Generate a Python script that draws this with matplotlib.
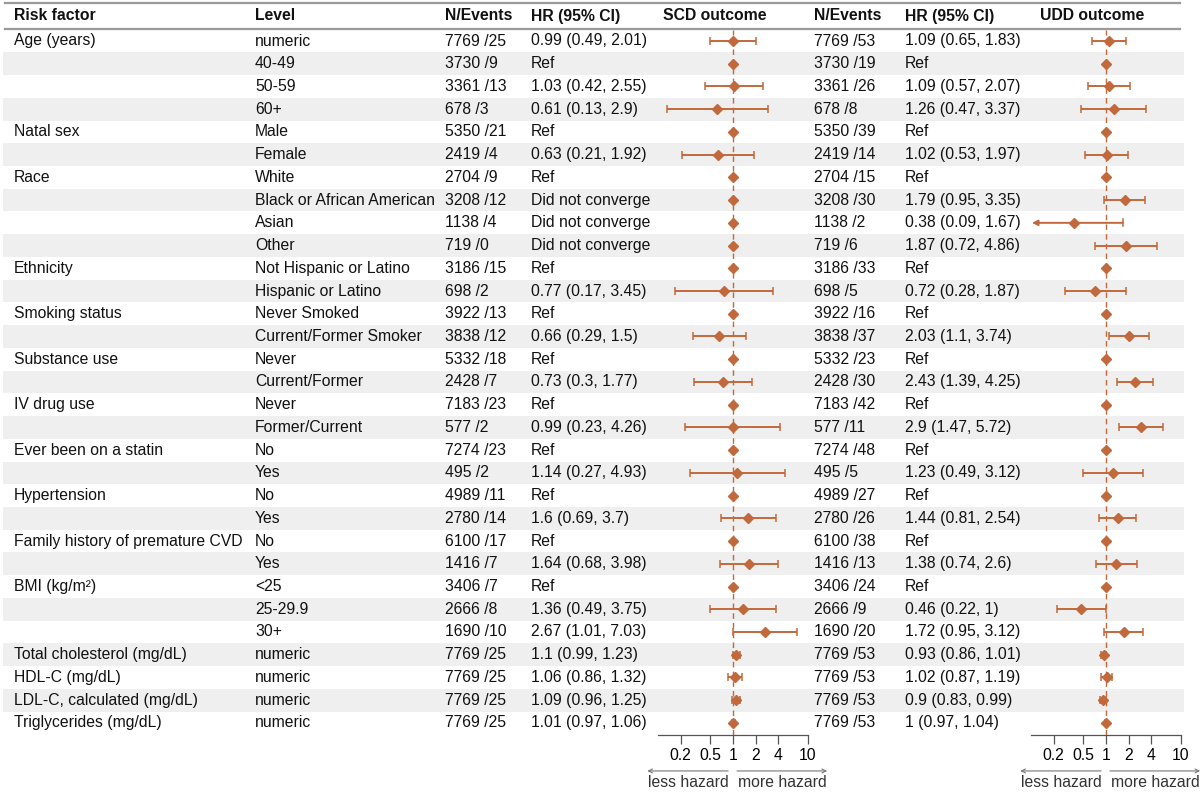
import numpy as np
import matplotlib
matplotlib.use("Agg")
import matplotlib.pyplot as plt

plt.rcParams["font.family"] = ["Liberation Sans", "DejaVu Sans"]
plt.rcParams["font.size"] = 11.3

# ---------------------------------------------------------------------------
# Table data
# ---------------------------------------------------------------------------
risk_factor = [
    "Age (years)", "", "", "",
    "Natal sex", "",
    "Race", "", "", "",
    "Ethnicity", "",
    "Smoking status", "",
    "Substance use", "",
    "IV drug use", "",
    "Ever been on a statin", "",
    "Hypertension", "",
    "Family history of premature CVD", "",
    "BMI (kg/m²)", "", "",
    "Total cholesterol (mg/dL)", "HDL-C (mg/dL)",
    "LDL-C, calculated (mg/dL)", "Triglycerides (mg/dL)",
]
level = [
    "numeric", "40-49", "50-59", "60+",
    "Male", "Female",
    "White", "Black or African American", "Asian", "Other",
    "Not Hispanic or Latino", "Hispanic or Latino",
    "Never Smoked", "Current/Former Smoker",
    "Never", "Current/Former",
    "Never", "Former/Current",
    "No", "Yes",
    "No", "Yes",
    "No", "Yes",
    "<25", "25-29.9", "30+",
    "numeric", "numeric", "numeric", "numeric",
]
n_total = [7769, 3730, 3361, 678, 5350, 2419, 2704, 3208, 1138, 719,
           3186, 698, 3922, 3838, 5332, 2428, 7183, 577, 7274, 495,
           4989, 2780, 6100, 1416, 3406, 2666, 1690, 7769, 7769, 7769, 7769]

# SCD outcome
scd_events = [25, 9, 13, 3, 21, 4, 9, 12, 4, 0, 15, 2, 13, 12, 18, 7,
              23, 2, 23, 2, 11, 14, 17, 7, 7, 8, 10, 25, 25, 25, 25]
scd_note = ["", "Ref", "", "", "Ref", "", "Ref", "Did not converge",
            "Did not converge", "Did not converge", "Ref", "", "Ref", "",
            "Ref", "", "Ref", "", "Ref", "", "Ref", "", "Ref", "", "Ref",
            "", "", "", "", "", ""]
scd_hr = [0.99, None, 1.03, 0.61, None, 0.63, None, None, None, None, None,
          0.77, None, 0.66, None, 0.73, None, 0.99, None, 1.14, None, 1.6,
          None, 1.64, None, 1.36, 2.67, 1.1, 1.06, 1.09, 1.01]
scd_lo = [0.49, None, 0.42, 0.13, None, 0.21, None, None, None, None, None,
          0.17, None, 0.29, None, 0.3, None, 0.23, None, 0.27, None, 0.69,
          None, 0.68, None, 0.49, 1.01, 0.99, 0.86, 0.96, 0.97]
scd_hi = [2.01, None, 2.55, 2.9, None, 1.92, None, None, None, None, None,
          3.45, None, 1.5, None, 1.77, None, 4.26, None, 4.93, None, 3.7,
          None, 3.98, None, 3.75, 7.03, 1.23, 1.32, 1.25, 1.06]

# UDD outcome
udd_events = [53, 19, 26, 8, 39, 14, 15, 30, 2, 6, 33, 5, 16, 37, 23, 30,
              42, 11, 48, 5, 27, 26, 38, 13, 24, 9, 20, 53, 53, 53, 53]
udd_note = ["", "Ref", "", "", "Ref", "", "Ref", "", "", "", "Ref", "",
            "Ref", "", "Ref", "", "Ref", "", "Ref", "", "Ref", "", "Ref", "",
            "Ref", "", "", "", "", "", ""]
udd_hr = [1.09, None, 1.09, 1.26, None, 1.02, None, 1.79, 0.38, 1.87, None,
          0.72, None, 2.03, None, 2.43, None, 2.9, None, 1.23, None, 1.44,
          None, 1.38, None, 0.46, 1.72, 0.93, 1.02, 0.9, 1]
udd_lo = [0.65, None, 0.57, 0.47, None, 0.53, None, 0.95, 0.09, 0.72, None,
          0.28, None, 1.1, None, 1.39, None, 1.47, None, 0.49, None, 0.81,
          None, 0.74, None, 0.22, 0.95, 0.86, 0.87, 0.83, 0.97]
udd_hi = [1.83, None, 2.07, 3.37, None, 1.97, None, 3.35, 1.67, 4.86, None,
          1.87, None, 3.74, None, 4.25, None, 5.72, None, 3.12, None, 2.54,
          None, 2.6, None, 1, 3.12, 1.01, 1.19, 0.99, 1.04]

xticks = [0.2, 0.5, 1, 2, 4, 10]
xlim = (0.1, 10)

ORANGE = "#c1693c"
SHADE = "#efefef"
RULE = "#9a9a9a"
AXIS = "#555555"
FS = 11.3

W, H = 1200, 792
ROW0, ROWH = 41, 22.73
n_rows = len(level)


def row_px(i):
    return ROW0 + ROWH * i


def hr_text(note, hr, lo, hi):
    if note:
        return note
    return f"{hr:g} ({lo:g}, {hi:g})"


def draw_forest(ax, note, hr, lo, hi):
    ax.set_xscale("log")
    ax.set_xlim(*xlim)
    top = (30 - ROW0) / ROWH
    bot = (735 - ROW0) / ROWH
    ax.set_ylim(bot, top)
    ax.patch.set_alpha(0)
    for s in ["top", "right", "left"]:
        ax.spines[s].set_visible(False)
    ax.spines["bottom"].set_color(AXIS)
    ax.spines["bottom"].set_linewidth(0.9)
    ax.set_yticks([])
    ax.set_xticks(xticks)
    ax.set_xticklabels([f"{t:g}" for t in xticks], fontsize=FS)
    ax.minorticks_off()
    ax.tick_params(axis="x", direction="out", length=6.5, width=0.9,
                   color=AXIS, pad=3)
    ax.axvline(1, color=ORANGE, lw=1.0, ls=(0, (4, 3)), zorder=1)

    for i in range(n_rows):
        if hr[i] is None:
            ax.plot(1, i, marker="D", ms=4.8, color=ORANGE, zorder=3)
            continue
        if lo[i] < xlim[0]:
            # CI runs off the left edge -> arrow
            ax.annotate("", xy=(xlim[0] * 1.03, i), xytext=(hi[i], i),
                        arrowprops=dict(arrowstyle="-|>", color=ORANGE,
                                        lw=1.4, mutation_scale=8,
                                        shrinkA=0, shrinkB=0), zorder=2)
            ax.plot([hi[i], hi[i]], [i - 0.15, i + 0.15], color=ORANGE,
                    lw=1.1, zorder=2)
            ax.plot(hr[i], i, marker="D", ms=4.8, color=ORANGE, zorder=3)
        else:
            ax.errorbar(hr[i], i, xerr=[[hr[i] - lo[i]], [hi[i] - hr[i]]],
                        fmt="D", ms=4.8, color=ORANGE, ecolor=ORANGE,
                        elinewidth=1.4, capsize=2.6, capthick=1.1, zorder=3)

    # hazard direction arrows
    xt = ax.get_xaxis_transform()
    arrow_kw = dict(arrowstyle="->", color="#777777", lw=0.8,
                    mutation_scale=7, shrinkA=0, shrinkB=0)
    ax.annotate("", xy=(0.072, -0.051), xytext=(0.86, -0.051),
                xycoords=xt, textcoords=xt, arrowprops=arrow_kw,
                annotation_clip=False)
    ax.annotate("", xy=(18, -0.051), xytext=(1.13, -0.051),
                xycoords=xt, textcoords=xt, arrowprops=arrow_kw,
                annotation_clip=False)
    ax.text(0.87, -0.068, "less hazard", transform=xt, ha="right",
            va="center", fontsize=FS, color="#333333")
    ax.text(1.17, -0.068, "more hazard", transform=xt, ha="left",
            va="center", fontsize=FS, color="#333333")


fig = plt.figure(figsize=(12, 7.92), dpi=100)
bg = fig.add_axes([0, 0, 1, 1])
bg.set_xlim(0, W)
bg.set_ylim(H, 0)
bg.axis("off")

# row shading
for i in range(1, n_rows, 2):
    bg.fill_between([3, 1184], row_px(i) - ROWH / 2, row_px(i) + ROWH / 2,
                    color=SHADE, lw=0, zorder=0)

# rules
bg.plot([5, 1180], [3, 3], color=RULE, lw=1.6)
bg.plot([5, 1180], [29, 29], color=RULE, lw=1.6)

# headers
cols_x = [14, 255, 445, 531, 663, 814, 905, 1040]
headers = ["Risk factor", "Level", "N/Events", "HR (95% CI)", "SCD outcome",
           "N/Events", "HR (95% CI)", "UDD outcome"]
for x, h in zip(cols_x, headers):
    bg.text(x, 16, h, ha="left", va="center", fontweight="bold",
            fontsize=FS, color="#111111")

# table body
for i in range(n_rows):
    y = row_px(i)
    cells = [
        risk_factor[i],
        level[i],
        f"{n_total[i]} /{scd_events[i]}",
        hr_text(scd_note[i], scd_hr[i], scd_lo[i], scd_hi[i]),
        None,
        f"{n_total[i]} /{udd_events[i]}",
        hr_text(udd_note[i], udd_hr[i], udd_lo[i], udd_hi[i]),
        None,
    ]
    for x, c in zip(cols_x, cells):
        if c:
            bg.text(x, y, c, ha="left", va="center", fontsize=FS,
                    color="#111111")

# forest panels
ax_top = 1 - 30 / H
ax_bot = 1 - 735 / H
ax_scd = fig.add_axes([658 / W, ax_bot, 150 / W, ax_top - ax_bot])
ax_udd = fig.add_axes([1031 / W, ax_bot, 150 / W, ax_top - ax_bot])
draw_forest(ax_scd, scd_note, scd_hr, scd_lo, scd_hi)
draw_forest(ax_udd, udd_note, udd_hr, udd_lo, udd_hi)

fig.savefig("out.png", dpi=100)
